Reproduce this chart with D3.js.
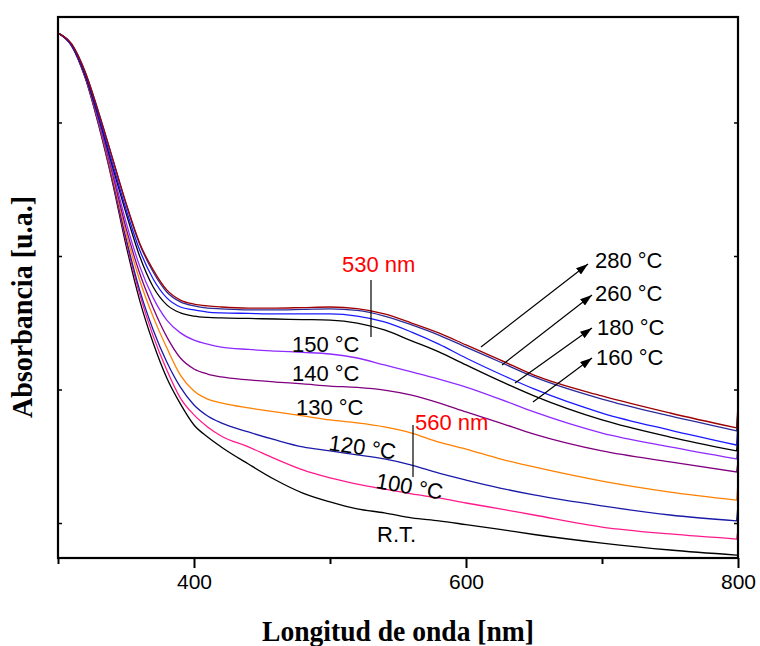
<!DOCTYPE html>
<html>
<head>
<meta charset="utf-8">
<script src="https://cdn.jsdelivr.net/npm/d3@7"></script>
<style>
  body { margin: 0; background: #fff; }
  svg { display: block; }
</style>
</head>
<body>
<svg id="chart"></svg>
<script>
const width = 760, height = 646;
const margin = {left: 58, right: 22, top: 17, bottom: 88};

// wavelength grid [nm]
const wavelengths = [300, 310, 320, 330, 340, 350, 360, 370, 380, 390, 400, 410, 420, 440,
                     460, 480, 500, 520, 540, 560, 580, 600, 625, 650, 700, 750, 799, 800];

// absorbance readings for each annealing temperature
const abs280 = [2.335, 2.294, 2.189, 2.036, 1.867, 1.699, 1.549, 1.448, 1.373, 1.335, 1.320, 1.313, 1.309, 1.305,
                1.305, 1.307, 1.309, 1.303, 1.283, 1.249, 1.212, 1.167, 1.111, 1.054, 0.976, 0.912, 0.856, 0.942];
const abs260 = [2.335, 2.294, 2.189, 2.036, 1.867, 1.695, 1.545, 1.440, 1.365, 1.328, 1.313, 1.305, 1.302, 1.298,
                1.298, 1.300, 1.302, 1.296, 1.275, 1.242, 1.204, 1.159, 1.103, 1.047, 0.964, 0.901, 0.845, 0.923];
const abs180 = [2.335, 2.290, 2.182, 2.024, 1.848, 1.676, 1.523, 1.414, 1.343, 1.309, 1.298, 1.290, 1.287, 1.285,
                1.283, 1.283, 1.283, 1.275, 1.253, 1.215, 1.170, 1.118, 1.058, 1.002, 0.912, 0.848, 0.792, 0.875];
const abs160 = [2.335, 2.290, 2.178, 2.017, 1.837, 1.661, 1.500, 1.384, 1.317, 1.287, 1.275, 1.270, 1.268, 1.266,
                1.264, 1.262, 1.260, 1.249, 1.223, 1.182, 1.141, 1.092, 1.032, 0.976, 0.886, 0.822, 0.770, 0.826];
const abs150 = [2.335, 2.290, 2.178, 2.009, 1.822, 1.627, 1.463, 1.343, 1.260, 1.212, 1.185, 1.170, 1.159, 1.150,
                1.144, 1.139, 1.133, 1.118, 1.092, 1.066, 1.039, 1.009, 0.964, 0.916, 0.837, 0.785, 0.740, 0.781];
const abs140 = [2.335, 2.290, 2.174, 2.006, 1.811, 1.605, 1.436, 1.305, 1.197, 1.118, 1.077, 1.058, 1.047, 1.036,
                1.028, 1.021, 1.013, 1.008, 0.998, 0.979, 0.950, 0.916, 0.875, 0.833, 0.770, 0.729, 0.691, 0.729];
const abs130 = [2.335, 2.290, 2.174, 2.002, 1.800, 1.586, 1.410, 1.272, 1.156, 1.054, 0.994, 0.964, 0.950, 0.931,
                0.916, 0.901, 0.886, 0.875, 0.860, 0.837, 0.803, 0.777, 0.740, 0.710, 0.657, 0.616, 0.586, 0.650];
const abs120 = [2.335, 2.288, 2.170, 1.998, 1.792, 1.567, 1.373, 1.223, 1.103, 1.009, 0.942, 0.901, 0.875, 0.841,
                0.811, 0.785, 0.770, 0.755, 0.740, 0.717, 0.687, 0.661, 0.631, 0.605, 0.564, 0.530, 0.508, 0.567];
const abs100 = [2.335, 2.288, 2.170, 1.994, 1.785, 1.556, 1.358, 1.200, 1.073, 0.968, 0.905, 0.860, 0.826, 0.785,
                0.740, 0.699, 0.669, 0.646, 0.627, 0.609, 0.594, 0.575, 0.553, 0.530, 0.485, 0.459, 0.440, 0.474];
const absRT  = [2.335, 2.287, 2.167, 1.987, 1.777, 1.541, 1.335, 1.174, 1.043, 0.946, 0.867, 0.822, 0.785, 0.721,
                0.661, 0.612, 0.579, 0.553, 0.538, 0.519, 0.508, 0.494, 0.476, 0.457, 0.425, 0.399, 0.380, 0.380];

// drawn bottom first so the top curves sit above
const series = [
  {name: "R.T.",   values: absRT,  color: "#000000"},
  {name: "100 °C", values: abs100, color: "#ff1a8c"},
  {name: "120 °C", values: abs120, color: "#1a1aa8"},
  {name: "130 °C", values: abs130, color: "#ff8000"},
  {name: "140 °C", values: abs140, color: "#800080"},
  {name: "150 °C", values: abs150, color: "#8f2bff"},
  {name: "160 °C", values: abs160, color: "#000000"},
  {name: "180 °C", values: abs180, color: "#1a1aff"},
  {name: "260 °C", values: abs260, color: "#2a2a9a"},
  {name: "280 °C", values: abs280, color: "#a00000"}
];

const xMajor = [400, 600, 800];
const xMinor = [300, 500, 700];
const yTicks = [0.5, 1.0, 1.5, 2.0];

const svg = d3.select("#chart").attr("width", width).attr("height", height);

const x = d3.scaleLinear().domain([300, 800]).range([margin.left, width - margin.right]);
const y = d3.scaleLinear().domain([0.369, 2.395]).range([height - margin.bottom, margin.top]);

svg.append("clipPath").attr("id", "clip")
  .append("rect")
  .attr("x", x(300)).attr("y", y(2.395))
  .attr("width", x(800) - x(300)).attr("height", y(0.369) - y(2.395));

// smooth curve up to 799 nm, then the detector step at 800 nm as a straight jump
const smooth = d3.line()
    .x(d => x(d[0]))
    .y(d => y(d[1]))
    .curve(d3.curveMonotoneX);

function spectrum(values) {
  const pts = values.map((v, i) => [wavelengths[i], v]);
  const last = pts.pop();
  return smooth(pts) + `L${x(last[0])},${y(last[1])}`;
}

svg.append("g").attr("clip-path", "url(#clip)")
  .selectAll("path")
  .data(series)
  .enter().append("path")
  .attr("d", d => spectrum(d.values))
  .attr("fill", "none")
  .attr("stroke", d => d.color)
  .attr("stroke-width", 1.3);

// axes
const bottomY = y(0.369);
svg.append("g")
  .attr("transform", `translate(0,${bottomY})`)
  .call(d3.axisBottom(x).tickValues(xMajor).tickSize(10).tickPadding(6).tickFormat(d3.format("d")))
  .call(g => g.select(".domain").remove())
  .call(g => g.selectAll(".tick line").attr("stroke-width", 2))
  .call(g => g.selectAll("text").attr("font-family", "Liberation Sans, Arial, sans-serif")
                               .attr("font-size", 21).attr("fill", "#000"));
svg.append("g")
  .attr("transform", `translate(0,${bottomY})`)
  .call(d3.axisBottom(x).tickValues(xMinor).tickSize(6).tickFormat(""))
  .call(g => g.select(".domain").remove())
  .call(g => g.selectAll(".tick line").attr("stroke-width", 2));

svg.append("g")
  .attr("transform", `translate(${x(300)},0)`)
  .call(d3.axisLeft(y).tickValues(yTicks).tickSize(-4).tickFormat(""))
  .call(g => g.select(".domain").remove())
  .call(g => g.selectAll(".tick line").attr("stroke-width", 1.5));
svg.append("g")
  .attr("transform", `translate(${x(800)},0)`)
  .call(d3.axisRight(y).tickValues(yTicks).tickSize(-4).tickFormat(""))
  .call(g => g.select(".domain").remove())
  .call(g => g.selectAll(".tick line").attr("stroke-width", 1.5));

// frame
svg.append("rect")
  .attr("x", x(300)).attr("y", y(2.395))
  .attr("width", x(800) - x(300)).attr("height", y(0.369) - y(2.395))
  .attr("fill", "none").attr("stroke", "#000").attr("stroke-width", 2.2);

// axis titles
svg.append("text")
  .attr("x", 398).attr("y", 641)
  .attr("text-anchor", "middle")
  .attr("font-family", "Liberation Serif, Times New Roman, serif")
  .attr("font-weight", "bold").attr("font-size", 29)
  .attr("textLength", 272).attr("lengthAdjust", "spacingAndGlyphs")
  .text("Longitud de onda [nm]");

svg.append("text")
  .attr("transform", "translate(32,307) rotate(-90)")
  .attr("text-anchor", "middle")
  .attr("font-family", "Liberation Serif, Times New Roman, serif")
  .attr("font-weight", "bold").attr("font-size", 29)
  .attr("textLength", 222).attr("lengthAdjust", "spacingAndGlyphs")
  .text("Absorbancia [u.a.]");

// annotations
const labelFont = "Liberation Sans, Arial, sans-serif";
const labels = [
  {t: "530 nm", x: 342, y: 272, c: "red"},
  {t: "150 °C", x: 292, y: 352, c: "#000"},
  {t: "140 °C", x: 292, y: 381, c: "#000"},
  {t: "130 °C", x: 296, y: 415, c: "#000"},
  {t: "560 nm", x: 415, y: 430, c: "red"},
  {t: "120 °C", x: 328, y: 450, c: "#000", r: 8},
  {t: "100 °C", x: 375, y: 488, c: "#000", r: 10},
  {t: "R.T.",   x: 377, y: 542, c: "#000"},
  {t: "280 °C", x: 595, y: 268, c: "#000"},
  {t: "260 °C", x: 595, y: 301, c: "#000"},
  {t: "180 °C", x: 597, y: 335, c: "#000"},
  {t: "160 °C", x: 596, y: 365, c: "#000"}
];
svg.append("g").selectAll("text")
  .data(labels)
  .enter().append("text")
  .attr("transform", d => `translate(${d.x},${d.y}) rotate(${d.r || 0})`)
  .attr("font-family", labelFont).attr("font-size", 22)
  .attr("fill", d => d.c)
  .text(d => d.t);

// peak markers
const markers = [[371, 280, 337], [413, 425, 477]];
svg.append("g").selectAll("line")
  .data(markers)
  .enter().append("line")
  .attr("x1", d => d[0]).attr("x2", d => d[0])
  .attr("y1", d => d[1]).attr("y2", d => d[2])
  .attr("stroke", "#000").attr("stroke-width", 1.2);

// arrows to the high-temperature labels
svg.append("defs").append("marker")
  .attr("id", "arrow").attr("viewBox", "0 0 12 8")
  .attr("refX", 12).attr("refY", 4)
  .attr("markerWidth", 12).attr("markerHeight", 8)
  .attr("markerUnits", "userSpaceOnUse")
  .attr("orient", "auto")
  .append("path").attr("d", "M0,0 L12,4 L0,8 Z").attr("fill", "#000");

const arrows = [
  [481, 347, 588, 264],
  [502, 365, 592, 295],
  [515, 383, 592, 328],
  [533, 402, 592, 358]
];
svg.append("g").selectAll("line")
  .data(arrows)
  .enter().append("line")
  .attr("x1", d => d[0]).attr("y1", d => d[1])
  .attr("x2", d => d[2]).attr("y2", d => d[3])
  .attr("stroke", "#000").attr("stroke-width", 1.2)
  .attr("marker-end", "url(#arrow)");
</script>
</body>
</html>
